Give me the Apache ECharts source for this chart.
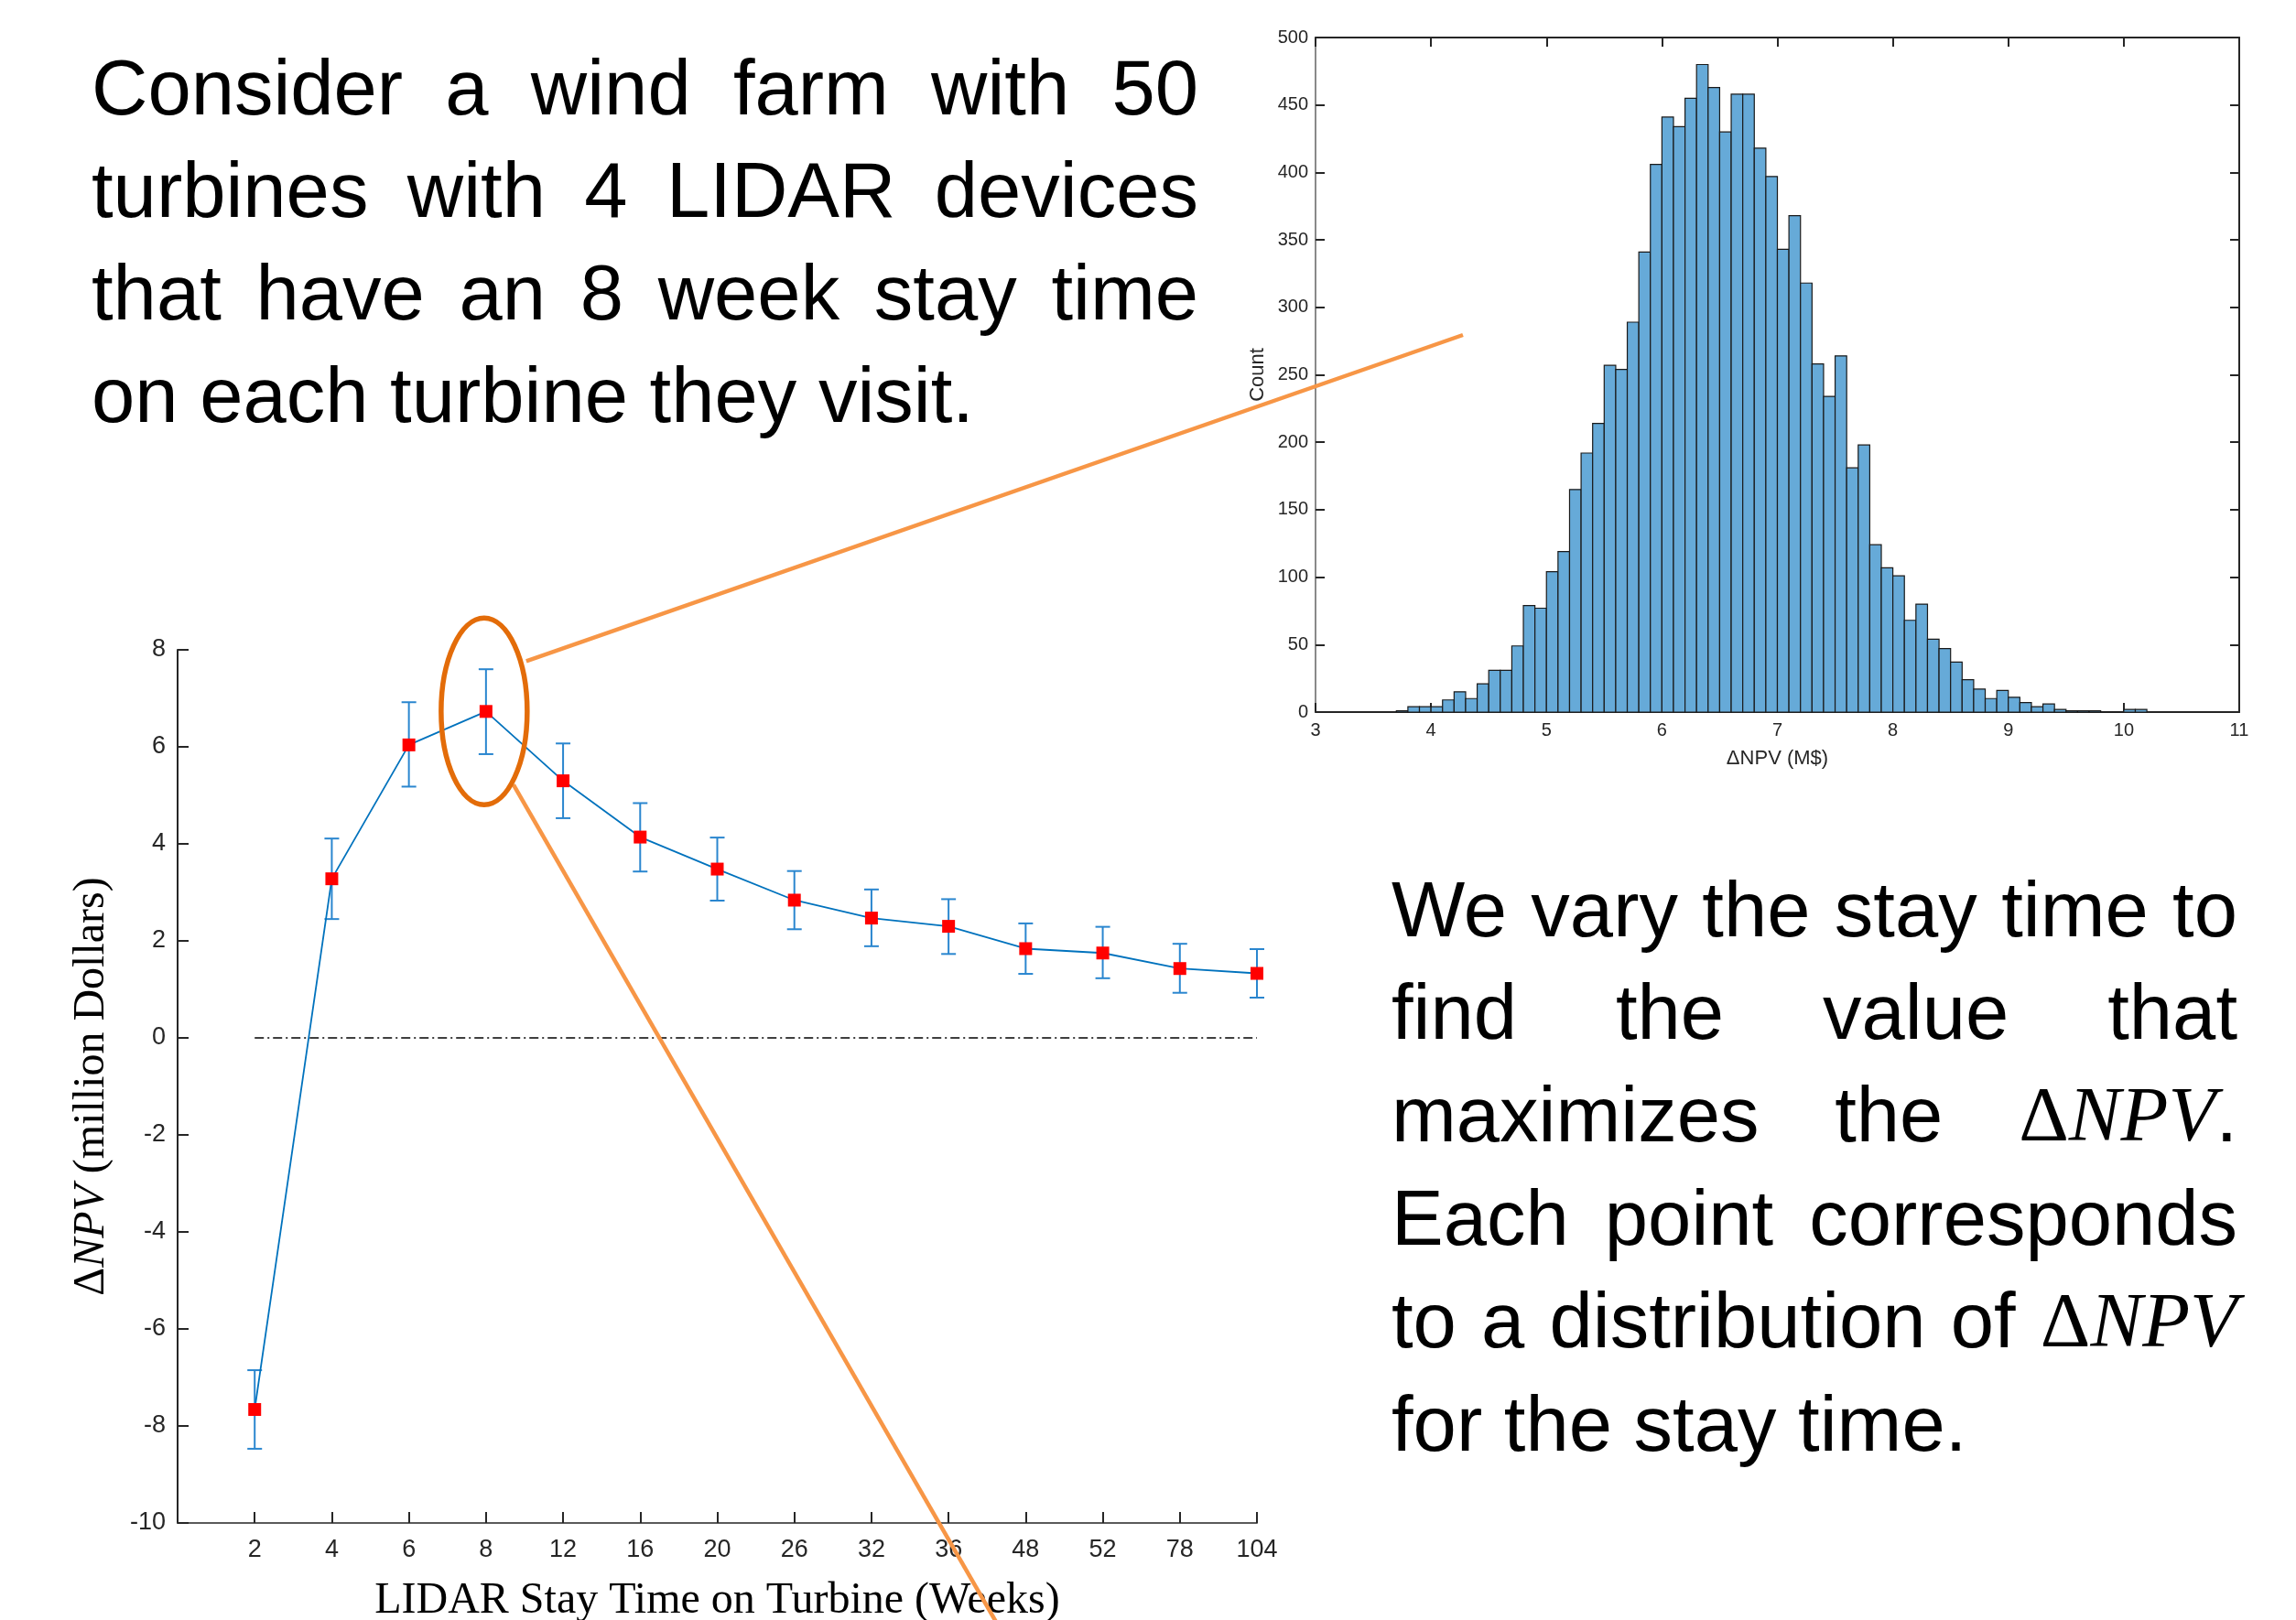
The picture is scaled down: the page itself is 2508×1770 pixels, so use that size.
<!DOCTYPE html>
<html><head><meta charset="utf-8">
<script src="https://cdn.jsdelivr.net/npm/echarts@6/dist/echarts.min.js"></script>
<style>html,body{margin:0;padding:0;background:#fff}#c{width:2508px;height:1770px}</style>
</head><body><div id="c"></div>
<script>
// ---- data ----
const categories = ['2','4','6','8','12','16','20','26','32','36','48','52','78','104'];
const npvMean  = [-7.66, 3.28, 6.04, 6.73, 5.30, 4.14, 3.48, 2.84, 2.47, 2.30, 1.84, 1.75, 1.43, 1.33];
const npvUpper = [-6.85, 4.11, 6.92, 7.60, 6.07, 4.84, 4.13, 3.44, 3.06, 2.86, 2.36, 2.29, 1.94, 1.83];
const npvLower = [-8.47, 2.45, 5.18, 5.85, 4.53, 3.43, 2.83, 2.24, 1.89, 1.73, 1.32, 1.23, 0.93, 0.83];
const zeroLevel = 0;
const highlightCategory = '8';

const histStart = 3.7;
const histBinWidth = 0.1;
const histCounts = [1, 4, 4, 4, 9, 15, 10, 21, 31, 31, 49, 79, 77, 104, 119, 165, 192, 214, 257, 254,
  289, 341, 406, 441, 434, 455, 480, 463, 430, 458, 458, 418, 397, 343, 368, 318, 258, 234, 264, 181,
  198, 124, 107, 101, 68, 80, 54, 47, 37, 24, 17, 10, 16, 11, 7, 4, 6, 2, 1, 1, 1, 0, 0, 2, 2];

const leftText = [
  'Consider a wind farm with 50',
  'turbines with 4 LIDAR devices',
  'that have an 8 week stay time',
  'on each turbine they visit.'
];
const rightText = [
  'We vary the stay time to',
  'find the value that',
  'maximizes the ΔNPV.',
  'Each point corresponds',
  'to a distribution of ΔNPV',
  'for the stay time.'
];

// ---- setup ----
const SANS = "'Liberation Sans', Arial, Helvetica, sans-serif";
const SERIF = "'Liberation Serif', 'Times New Roman', serif";
const AX = '#262626';
const chart = echarts.init(document.getElementById('c'), null, {renderer: 'canvas', width: 2508, height: 1770});

const histData = histCounts.map((c, i) => {
  const s = +(histStart + i * histBinWidth).toFixed(2);
  return [s, +(s + histBinWidth).toFixed(2), c];
});

const option = {
  animation: false,
  backgroundColor: '#fff',
  grid: [
    {left: 194, right: 1135, top: 710, bottom: 106, outerBoundsMode: 'none', containLabel: false},
    {left: 1437, right: 62, top: 41, bottom: 992, outerBoundsMode: 'none', containLabel: false}
  ],
  xAxis: [
    {gridIndex: 0, type: 'category', data: [''].concat(categories), boundaryGap: false,
      axisLine: {onZero: false, lineStyle: {color: '#5a5a5a', width: 2}},
      axisTick: {inside: true, length: 12, interval: 0, lineStyle: {color: AX, width: 2}},
      axisLabel: {interval: 0, color: AX, fontFamily: SANS, fontSize: 27, margin: 16},
      splitLine: {show: false},
      name: 'LIDAR Stay Time on Turbine (Weeks)', nameLocation: 'middle', nameGap: 61,
      nameTextStyle: {fontFamily: SERIF, fontSize: 48, color: '#000'}},
    {gridIndex: 1, type: 'value', min: 3, max: 11, interval: 1,
      axisLine: {onZero: false, lineStyle: {color: AX, width: 2}},
      axisTick: {inside: true, length: 10, lineStyle: {color: AX, width: 2}},
      axisLabel: {color: AX, fontFamily: SANS, fontSize: 20, margin: 10},
      splitLine: {show: false},
      name: 'ΔNPV (M$)', nameLocation: 'middle', nameGap: 40,
      nameTextStyle: {fontFamily: SANS, fontSize: 22, color: AX}},
    {gridIndex: 1, type: 'value', position: 'top', min: 3, max: 11, interval: 1,
      axisLine: {onZero: false, lineStyle: {color: AX, width: 2}},
      axisTick: {inside: true, length: 10, lineStyle: {color: AX, width: 2}},
      axisLabel: {show: false}, splitLine: {show: false}}
  ],
  yAxis: [
    {gridIndex: 0, type: 'value', min: -10, max: 8, interval: 2,
      axisLine: {show: true, onZero: false, lineStyle: {color: AX, width: 2}},
      axisTick: {show: true, inside: true, length: 12, lineStyle: {color: AX, width: 2}},
      axisLabel: {color: AX, fontFamily: SANS, fontSize: 27, margin: 13},
      splitLine: {show: false},
      name: '{d|Δ}{i|NPV}{n| (million Dollars)}', nameLocation: 'middle', nameGap: 70,
      nameTextStyle: {fontFamily: SERIF, fontSize: 48, color: '#000',
        rich: {
          d: {fontFamily: SERIF, fontSize: 48, color: '#000'},
          i: {fontFamily: SERIF, fontSize: 48, fontStyle: 'italic', color: '#000'},
          n: {fontFamily: SERIF, fontSize: 48, color: '#000'}
        }}},
    {gridIndex: 1, type: 'value', min: 0, max: 500, interval: 50,
      axisLine: {show: true, onZero: false, lineStyle: {color: '#8a8a8a', width: 2}},
      axisTick: {show: true, inside: true, length: 10, lineStyle: {color: AX, width: 2}},
      axisLabel: {color: AX, fontFamily: SANS, fontSize: 20, margin: 8},
      splitLine: {show: false},
      name: 'Count', nameLocation: 'middle', nameGap: 52,
      nameTextStyle: {fontFamily: SANS, fontSize: 22, color: AX}},
    {gridIndex: 1, type: 'value', position: 'right', min: 0, max: 500, interval: 50,
      axisLine: {show: true, onZero: false, lineStyle: {color: AX, width: 2}},
      axisTick: {show: true, inside: true, length: 10, lineStyle: {color: AX, width: 2}},
      axisLabel: {show: false}, splitLine: {show: false}}
  ],
  series: [
    {type: 'line', xAxisIndex: 0, yAxisIndex: 0, data: categories.map(c => [c, zeroLevel]),
      symbol: 'none', silent: true, z: 1,
      lineStyle: {color: '#000', width: 1.5, type: [10, 4, 2, 4]}},
    {type: 'custom', xAxisIndex: 0, yAxisIndex: 0, z: 2,
      data: categories.map((c, i) => [c, npvLower[i], npvUpper[i]]),
      encode: {x: 0, y: [1, 2]},
      renderItem: function (params, api) {
        const x = api.value(0);
        const lo = api.coord([x, api.value(1)]);
        const hi = api.coord([x, api.value(2)]);
        const w = 8;
        const st = {stroke: '#2a86cf', lineWidth: 2};
        return {type: 'group', children: [
          {type: 'line', shape: {x1: lo[0], y1: lo[1], x2: hi[0], y2: hi[1]}, style: st},
          {type: 'line', shape: {x1: lo[0] - w, y1: lo[1], x2: lo[0] + w, y2: lo[1]}, style: st},
          {type: 'line', shape: {x1: hi[0] - w, y1: hi[1], x2: hi[0] + w, y2: hi[1]}, style: st}
        ]};
      }},
    {type: 'line', xAxisIndex: 0, yAxisIndex: 0, z: 3,
      data: categories.map((c, i) => [c, npvMean[i]]),
      symbol: 'rect', symbolSize: 14,
      itemStyle: {color: '#ff0000'},
      lineStyle: {color: '#0072BD', width: 1.8}},
    {type: 'custom', xAxisIndex: 1, yAxisIndex: 1, data: histData,
      encode: {x: [0, 1], y: 2},
      renderItem: function (params, api) {
        const p0 = api.coord([api.value(0), api.value(2)]);
        const p1 = api.coord([api.value(1), 0]);
        return {type: 'rect', shape: {x: p0[0], y: p0[1], width: p1[0] - p0[0], height: p1[1] - p0[1]},
          style: {fill: '#66AAD8', stroke: '#1a1a1a', lineWidth: 1.2}};
      }}
  ]
};
chart.setOption(option);

// ---- text blocks (justified) ----
const FS = 85;
const fonts = {
  s: FS + 'px ' + SANS,
  d: FS + 'px ' + SERIF,
  i: 'italic ' + FS + 'px ' + SERIF
};
const cv = document.createElement('canvas').getContext('2d');
function mw(font, t) { cv.font = font; return cv.measureText(t).width; }
function splitWord(w) {
  const idx = w.indexOf('ΔNPV');
  if (idx < 0) return [{k: 's', t: w}];
  const segs = [];
  if (idx > 0) segs.push({k: 's', t: w.slice(0, idx)});
  segs.push({k: 'd', t: 'Δ'});
  segs.push({k: 'i', t: 'NPV'});
  const rest = w.slice(idx + 4);
  if (rest) segs.push({k: 's', t: rest});
  return segs;
}
function layout(lines, x0, x1, baselines, justifyCount) {
  const els = [];
  const spaceW = mw(fonts.s, ' ');
  lines.forEach((line, li) => {
    const words = line.split(' ').map(splitWord);
    const widths = words.map(segs => segs.reduce((a, s) => a + mw(fonts[s.k], s.t), 0));
    const total = widths.reduce((a, b) => a + b, 0);
    let gap = spaceW;
    if (li < justifyCount && words.length > 1) gap = (x1 - x0 - total) / (words.length - 1);
    let x = x0;
    const y = baselines[li] - FS * 0.28;
    words.forEach((segs, wi) => {
      const rich = {};
      let txt = '';
      segs.forEach((s, si) => {
        const key = s.k + si;
        rich[key] = {font: fonts[s.k], fill: '#000'};
        txt += '{' + key + '|' + s.t + '}';
      });
      els.push({type: 'text', z: 10, silent: true,
        style: {x: x, y: y, text: txt, rich: rich, font: fonts.s, fill: '#000',
          align: 'left', verticalAlign: 'middle', textAlign: 'left', textVerticalAlign: 'middle'}});
      x += widths[wi] + gap;
    });
  });
  return els;
}

const graphics = [];
graphics.push(...layout(leftText, 100, 1309, [125, 237, 349, 461], 3));
graphics.push(...layout(rightText, 1520, 2444, [1023, 1135, 1247, 1360, 1472, 1585], 5));

// ---- annotations ----
const hp = chart.convertToPixel({xAxisIndex: 0, yAxisIndex: 0}, [highlightCategory, npvMean[categories.indexOf(highlightCategory)]]);
graphics.push({type: 'line', z: 20, silent: true,
  shape: {x1: hp[0] + 44, y1: hp[1] - 55, x2: 1598, y2: 366},
  style: {stroke: '#F79646', lineWidth: 4.5}});
graphics.push({type: 'line', z: 20, silent: true,
  shape: {x1: hp[0] + 30, y1: hp[1] + 80, x2: 1088, y2: 1772},
  style: {stroke: '#F79646', lineWidth: 4.5}});
graphics.push({type: 'ellipse', z: 21, silent: true,
  shape: {cx: hp[0] - 2, cy: hp[1], rx: 47, ry: 102},
  style: {fill: 'none', stroke: '#E36C09', lineWidth: 5.5}});

chart.setOption({graphic: {elements: graphics}});
</script>
</body></html>
